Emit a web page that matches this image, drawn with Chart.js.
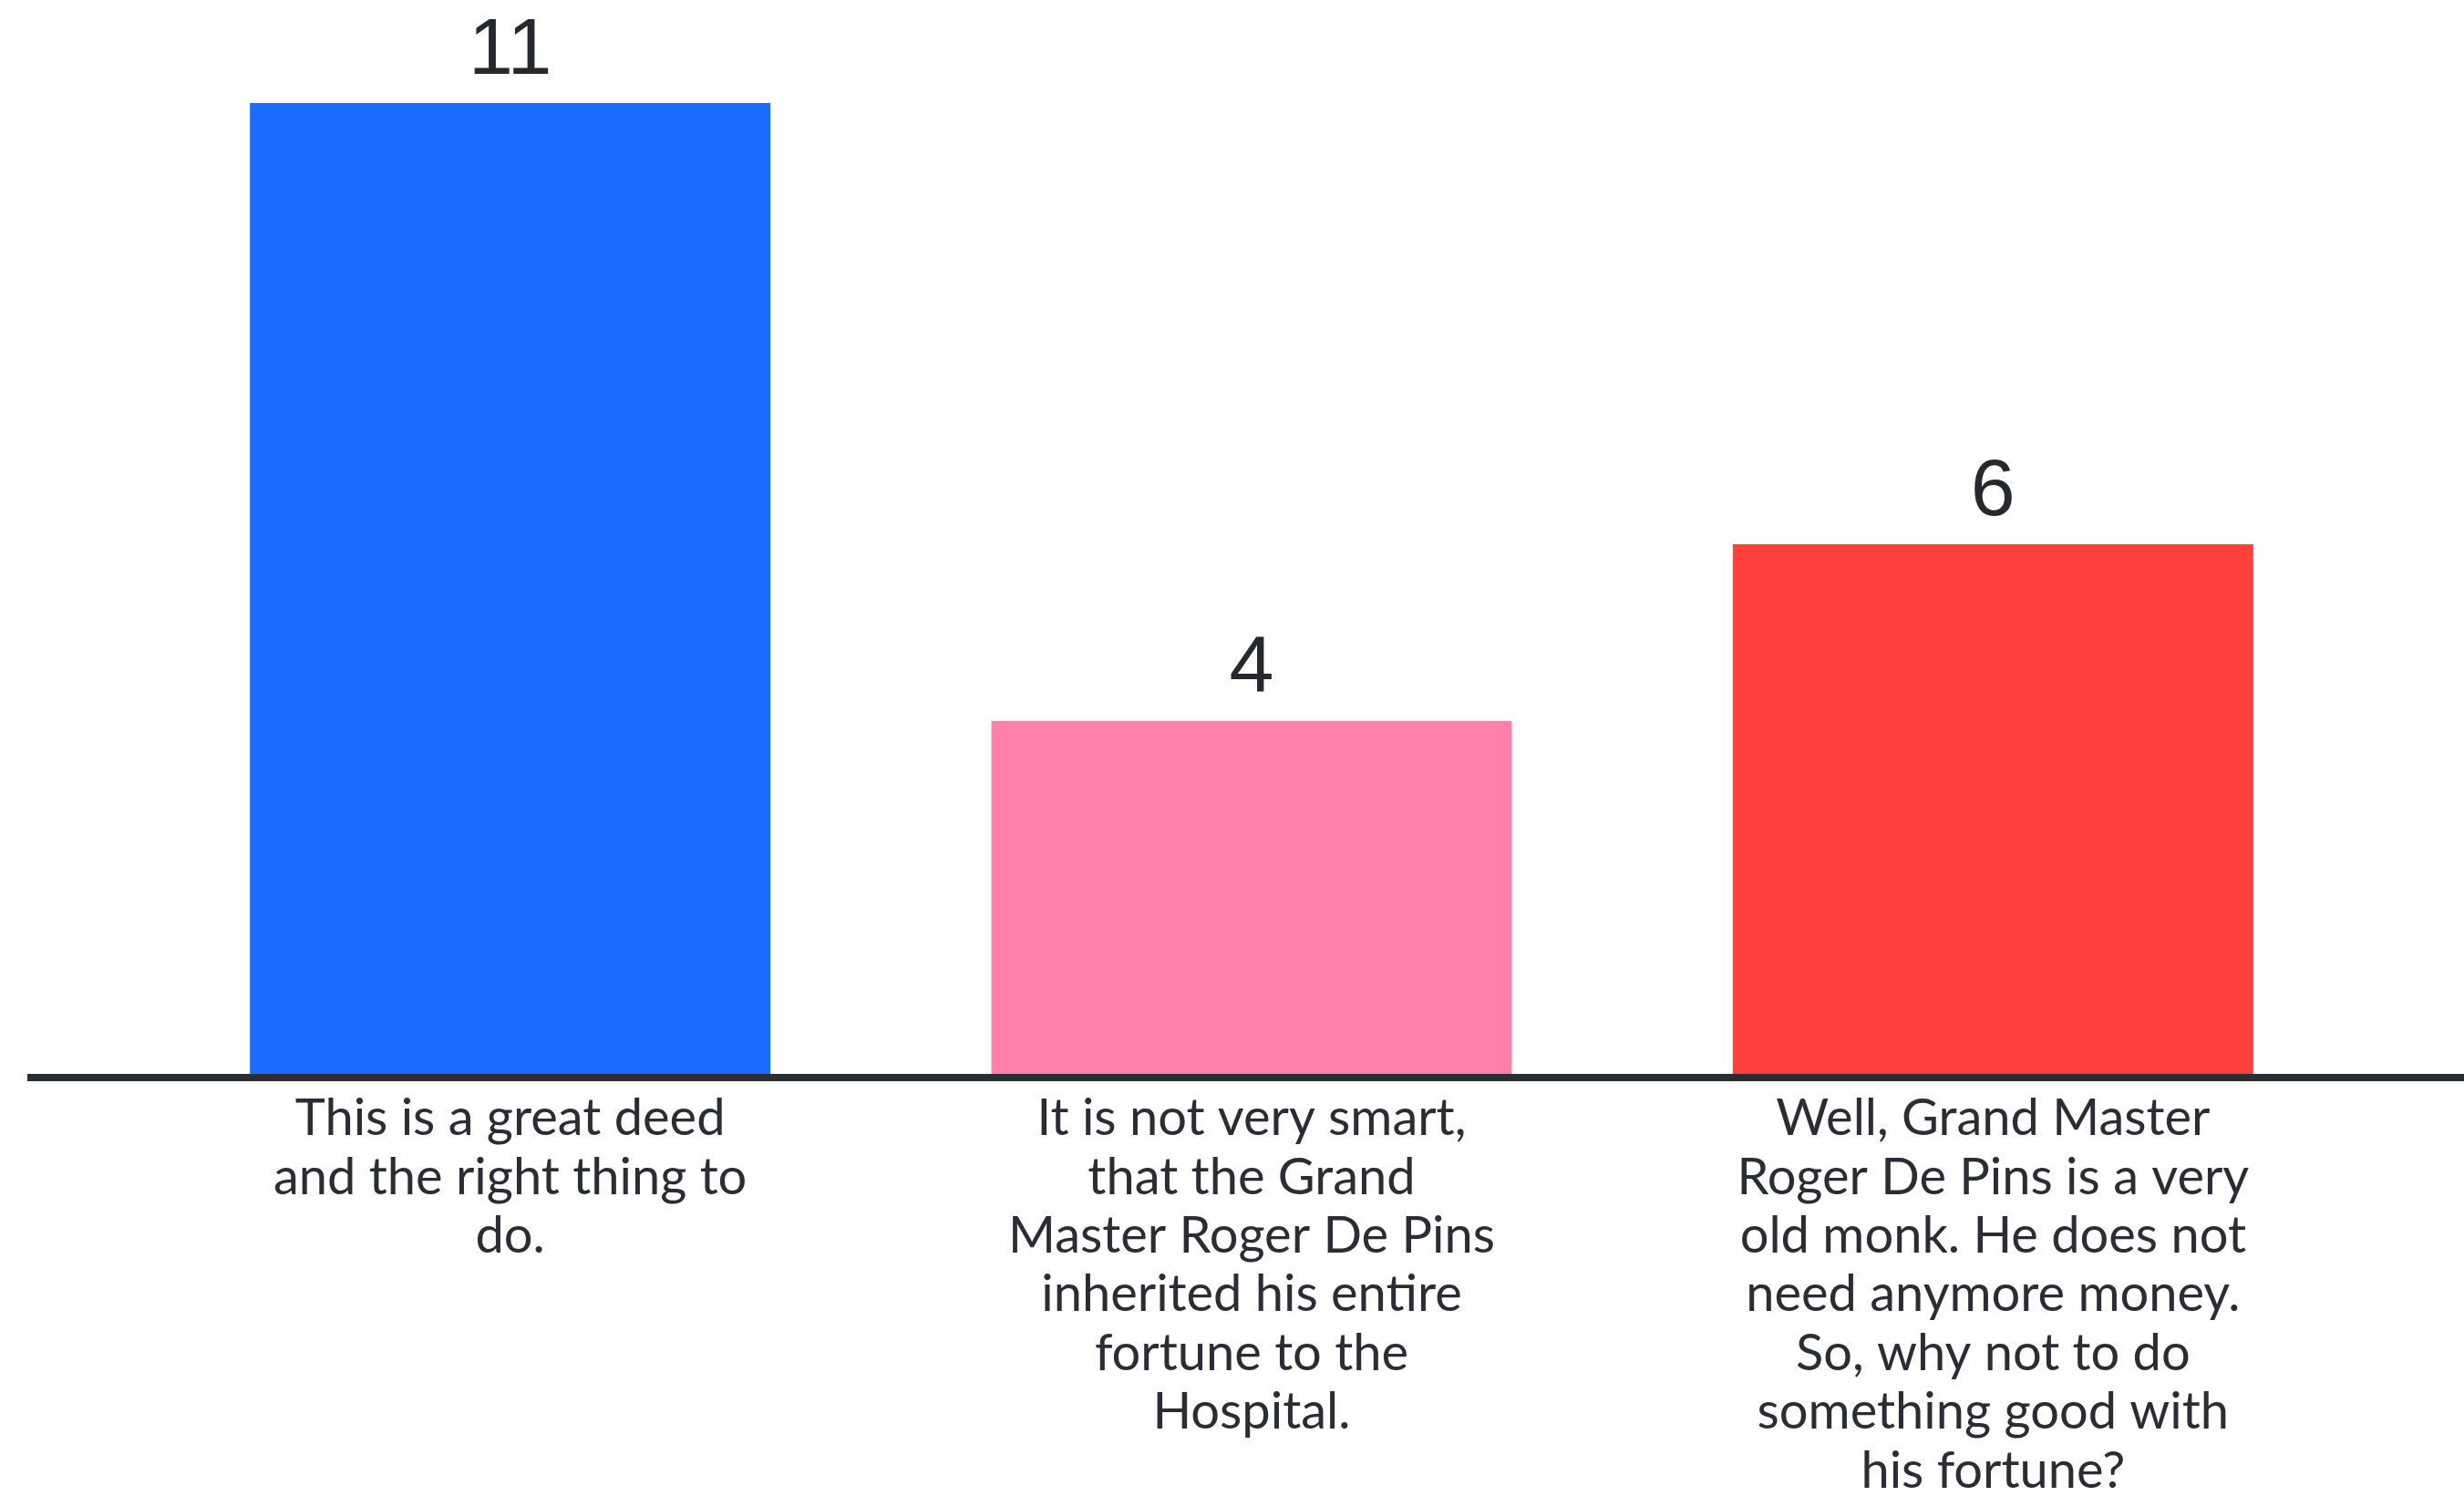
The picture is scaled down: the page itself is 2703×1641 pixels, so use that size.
<!DOCTYPE html>
<html>
<head>
<meta charset="utf-8">
<title>Poll results</title>
<script src="https://cdn.jsdelivr.net/npm/chart.js@4.4.1/dist/chart.umd.min.js"></script>
<style>
    html, body { margin: 0; padding: 0; background: #ffffff; }
    canvas { display: block; }
</style>
</head>
<body>
<canvas id="pollChart" width="2703" height="1641"></canvas>
<script>
// Answer options (wrapped the same way as on the slide)
const answerLabels = [
    ['This is a great deed', 'and the right thing to', 'do.'],
    ['It is not very smart,', 'that the Grand', 'Master Roger De Pins', 'inherited his entire', 'fortune to the', 'Hospital.'],
    ['Well, Grand Master', 'Roger De Pins is a very', 'old monk. He does not', 'need anymore money.', 'So, why not to do', 'something good with', 'his fortune?']
];
const voteCounts = [11, 4, 6];
const barColors = ['#196CFF', '#FF80AB', '#FF403D'];

const TEXT_COLOR = '#2a2d33';

// value above each bar + the long baseline
const pollDecor = {
    id: 'pollDecor',
    afterDatasetsDraw(chart) {
        const ctx = chart.ctx;
        const yScale = chart.scales.y;
        const zeroY = yScale.getPixelForValue(0);

        ctx.save();
        ctx.fillStyle = '#2a2d33';
        ctx.fillRect(30, zeroY, chart.width - 30, 8);

        ctx.font = '88px "Liberation Sans", Arial, sans-serif';
        ctx.fillStyle = '#25282d';
        ctx.textAlign = 'center';
        ctx.textBaseline = 'alphabetic';
        chart.getDatasetMeta(0).data.forEach((bar, i) => {
            ctx.fillText(String(voteCounts[i]), bar.x, bar.y - 32);
        });
        ctx.restore();
    }
};

const ctx = document.getElementById('pollChart').getContext('2d');
new Chart(ctx, {
    type: 'bar',
    data: {
        labels: answerLabels,
        datasets: [{
            data: voteCounts,
            backgroundColor: barColors,
            borderWidth: 0,
            barPercentage: 0.702,
            categoryPercentage: 1
        }]
    },
    options: {
        responsive: false,
        animation: false,
        layout: { padding: { left: 153, right: 110, top: 113, bottom: 0 } },
        plugins: {
            legend: { display: false },
            tooltip: { enabled: false }
        },
        scales: {
            y: { display: false, min: 0, max: 11 },
            x: {
                grid: { display: false, drawTicks: false },
                border: { display: false },
                ticks: {
                    color: TEXT_COLOR,
                    padding: 17,
                    maxRotation: 0,
                    autoSkip: false,
                    font: { family: 'Lato, "Open Sans", sans-serif', size: 56, lineHeight: 1.15 }
                },
                afterFit: (scale) => { scale.height = 463; }
            }
        }
    },
    plugins: [pollDecor]
});
</script>
</body>
</html>
